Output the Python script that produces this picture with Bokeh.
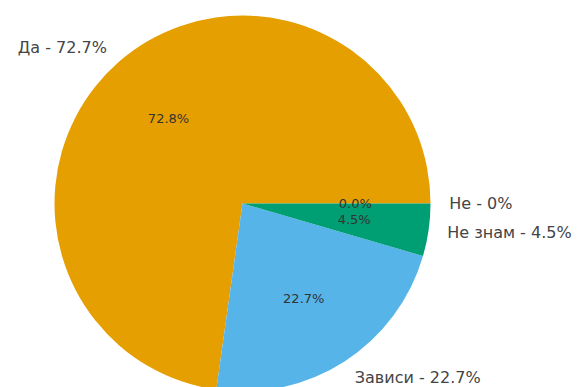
import math
from bokeh.plotting import figure
from bokeh.models import Range1d, ColumnDataSource
from bokeh.core.properties import value
from bokeh.embed import file_html
from bokeh.resources import INLINE

categories = ["Да", "Зависи", "Не знам", "Не"]
values = [72.7, 22.7, 4.5, 0.0]
colors = ["#E69F00", "#56B4E9", "#009E73", "#F0E442"]

W, H = 583, 387
cx, cy, R = 242, -203, 188

p = figure(width=W, height=H, output_backend="svg", toolbar_location=None,
           x_range=Range1d(0, W), y_range=Range1d(-H, 0),
           min_border=0, outline_line_color=None)
p.axis.visible = False
p.grid.visible = False
p.background_fill_color = "white"

total = sum(values)
starts, ends = [], []
acc = 0.0
for v in values:
    starts.append(acc / total * 2 * math.pi)
    acc += v
    ends.append(acc / total * 2 * math.pi)

keep = [i for i, v in enumerate(values) if v > 0]
src = ColumnDataSource(dict(start=[starts[i] for i in keep],
                            end=[ends[i] for i in keep],
                            color=[colors[i] for i in keep]))
p.wedge(x=cx, y=cy, radius=R, start_angle="start", end_angle="end",
        color="color", line_color=None, source=src)

# outer labels and percentage labels
lx, ly, ltxt, lalign = [], [], [], []
ax, ay, atxt = [], [], []
for name, v, s, e in zip(categories, values, starts, ends):
    mid = (s + e) / 2
    lx.append(cx + 1.1 * R * math.cos(mid))
    ly.append(cy + 1.1 * R * math.sin(mid))
    ltxt.append(f"{name} - {v:g}%")
    lalign.append("left" if math.cos(mid) >= 0 else "right")
    ax.append(cx + 0.6 * R * math.cos(mid))
    ay.append(cy + 0.6 * R * math.sin(mid))
    atxt.append(f"{v / total * 100:.1f}%")

lsrc = ColumnDataSource(dict(x=lx, y=ly, text=ltxt, align=lalign))
p.text(x="x", y="y", text="text", text_align="align", text_baseline="middle",
       text_font=value("DejaVu Sans"), text_font_size="16px",
       text_color="#444444", source=lsrc)

asrc = ColumnDataSource(dict(x=ax, y=ay, text=atxt))
p.text(x="x", y="y", text="text", text_align="center", text_baseline="middle",
       text_font=value("DejaVu Sans"), text_font_size="13px",
       text_color="#333333", source=asrc)

open("out.html", "w").write(file_html(p, INLINE))
